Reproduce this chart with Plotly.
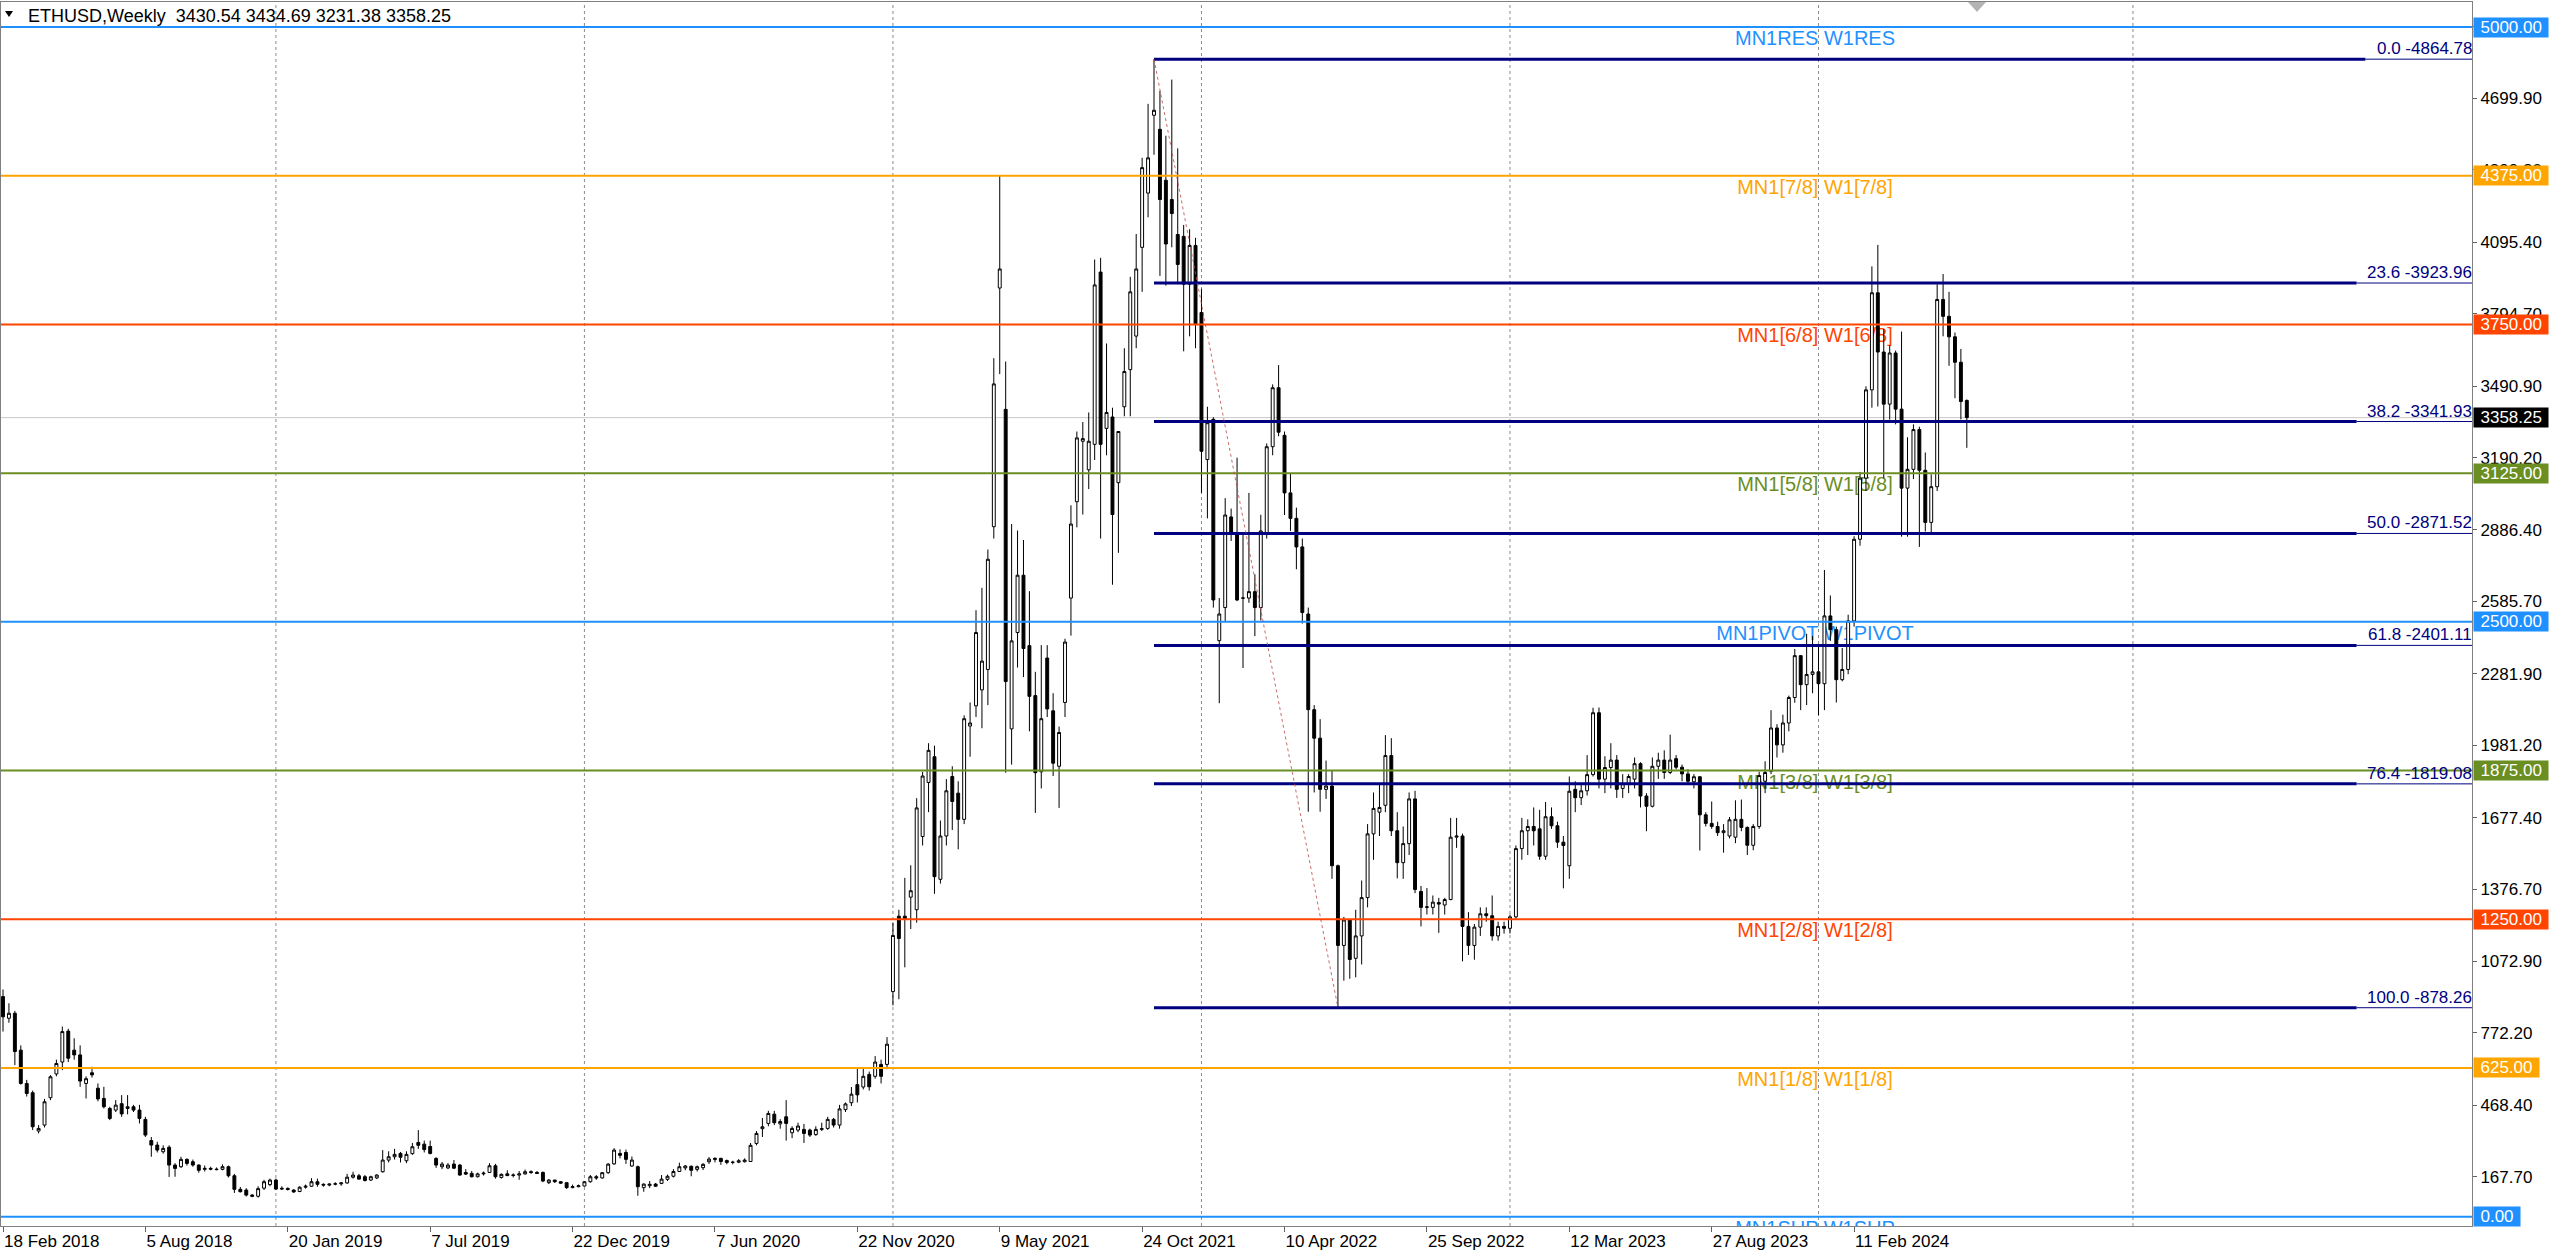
import plotly.graph_objects as go

# ---------------- DATA (weekly OHLC) ----------------
w2018 = [(925,955,778,840),(834,897,815,855),(855,865,637,694),(700,720,555,560),(560,575,505,518),
 (521,530,364,378),(360,385,350,371),(385,495,375,483),(500,595,490,588),(600,660,590,644),
 (650,799,616,778),(780,790,650,666),(700,750,660,680),(680,720,546,570),(560,590,497,580),
 (605,630,585,596),(540,560,485,495),(497,546,455,462),(455,462,406,413),(448,490,440,469),
 (475,511,420,432),(455,511,430,462),(462,470,440,448),(448,470,392,413),(409,420,335,343),
 (320,335,252,301),(301,315,270,280),(273,300,265,287),(292,300,167,217),(217,225,168,203),
 (210,252,205,241),(241,245,215,224),(231,240,210,217),(217,220,185,195),(199,215,190,203),
 (203,210,195,200),(200,207,195,198),(199,220,195,210),(210,215,165,172),(172,180,100,115),
 (115,125,102,105),(112,120,85,91),(91,95,82,86),(86,128,80,118),(120,155,112,147),(135,160,128,154)]
w2019 = [(154,160,112,116),(116,128,112,119),(119,123,110,115),(112,116,100,104),(106,128,103,124),
 (124,135,118,128),(128,162,126,147),(147,160,126,136),(136,140,126,133),(133,140,128,137),
 (137,145,132,138),(138,145,130,142),(142,180,138,166),(166,189,160,175),(172,180,155,158),
 (168,175,148,152),(154,172,150,168),(163,178,158,175),(189,280,185,238),(238,275,228,252),
 (252,285,240,262),(266,272,228,250),(235,275,225,262),(265,310,260,294),(312,364,285,300),
 (305,320,270,282),(295,320,262,266),(245,250,205,217),(210,230,200,221),(205,225,200,217),
 (221,238,200,204),(217,222,172,175),(186,200,175,179),(182,192,165,168),(168,185,165,180),
 (180,190,173,183),(186,225,185,214),(214,222,160,168),(165,182,160,178),(180,195,170,173),
 (173,182,165,175),(175,192,155,180),(180,198,176,189),(189,195,180,186),(186,192,180,182),
 (186,190,145,150),(143,158,137,154),(154,155,142,147),(147,150,138,141),(143,145,117,122),
 (122,135,120,126),(126,135,124,130)]
w2020 = [(129,150,127,147),(147,175,143,168),(168,175,155,163),(163,188,160,185),(185,225,180,221),
 (222,288,218,280),(266,283,245,258),(270,282,222,241),(213,253,210,238),(210,215,88,126),
 (122,140,105,137),(130,150,120,136),(137,142,125,128),(140,175,138,158),(157,177,150,170),
 (170,200,165,190),(190,227,188,210),(205,217,195,213),(212,215,170,195),(199,215,190,210),
 (206,225,196,220),(231,251,222,242),(240,250,228,245),(245,248,218,232),(236,240,220,228),
 (228,235,220,229),(229,242,225,235),(231,245,228,238),(232,310,230,300),(308,360,300,350),
 (370,415,335,378),(392,445,380,434),(431,445,385,395),(390,410,370,400),(420,490,320,392),
 (353,380,330,371),(364,395,355,381),(367,390,310,350),(364,370,335,343),(345,380,340,367),
 (367,395,360,370),(371,420,365,409),(409,415,375,385),(385,470,370,453),(450,480,440,474),
 (479,545,465,515),(555,622,480,512),(545,625,535,590),(598,610,530,546),(590,675,580,650),
 (640,660,560,590),(640,755,620,725)]
w2021 = [(946,1236,888,1182),(1263,1290,914,1169),(1263,1424,1048,1249),(1343,1477,1209,1370),
 (1290,1759,1236,1718),(1598,1870,1560,1852),(1825,1990,1700,1960),(1933,1980,1357,1429),
 (1418,1665,1400,1600),(1600,1839,1560,1790),(1850,1893,1625,1745),(1780,1830,1544,1670),
 (1670,2107,1650,2093),(2062,2161,1933,2075),(2147,2549,2100,2455),(2214,2643,2053,2335),
 (2300,2804,2150,2763),(2900,3608,2850,3500),(3903,4377,3541,3983),(3393,3594,1866,2249),
 (2050,2911,1900,2420),(2455,2884,2308,2696),(2696,2844,2268,2388),(2400,2629,2040,2187),
 (2190,2290,1697,1866),(1870,2402,1800,2093),(2348,2402,2100,2134),(2126,2200,1852,1906),
 (1893,2060,1718,2035),(2161,2429,2100,2415),(2600,2990,2442,2911),(3005,3300,2897,3273),
 (3259,3340,2951,3270),(3139,3380,3058,3259),(3246,4023,3180,3916),(3970,4030,2850,3246),
 (3313,3670,3200,3380),(3361,3400,2656,2951),(3085,3300,2790,3300),(3404,3650,3364,3552),
 (3560,3950,3364,3887),(3701,4130,3650,3983),(4074,4450,3887,4409),(4302,4677,4200,4450),
 (4629,4864.78,4463,4650),(4570,4731,3954,4275),(4356,4543,3913,4088),(4275,4779,4074,4216),
 (4128,4490,3919,4002),(4120,4168,3637,3919),(3919,4150,3700,4082),(4082,4114,3650,3753)]
w2022 = [(3800,3900,3042,3217),(3182,3404,2935,3337),(3351,3360,2560,2592),(2421,2600,2158,2533),
 (2560,3020,2500,2949),(2941,2976,2840,2868),(2868,3190,2587,2592),(2600,2868,2306,2600),
 (2600,3042,2580,2627),(2627,2700,2440,2560),(2560,2950,2506,2882),(2868,3250,2850,3236),
 (3236,3498,3200,3484),(3484,3579,3280,3297),(3284,3300,2949,3042),(3042,3123,2882,2935),
 (2935,2980,2721,2815),(2815,2850,2493,2539),(2533,2560,1702,2131),(2131,2150,1783,2011),
 (2011,2091,1702,1796),(1796,1917,1756,1810),(1810,1877,1420,1475),(1475,1480,878.26,1140),
 (1140,1260,992,1247),(1247,1250,1000,1081),(1086,1290,1006,1180),(1180,1413,1060,1341),
 (1341,1650,1300,1609),(1609,1783,1500,1716),(1700,1820,1600,1720),(1729,2024,1700,1938),
 (1938,2011,1600,1622),(1622,1700,1422,1488),(1488,1640,1420,1568),(1568,1783,1520,1756),
 (1756,1790,1360,1375),(1367,1390,1220,1300),(1300,1381,1270,1302),(1300,1350,1270,1322),
 (1320,1340,1193,1314),(1310,1340,1270,1333),(1333,1676,1330,1595),(1595,1676,1550,1600),
 (1600,1610,1073,1220),(1220,1280,1100,1140),(1140,1230,1080,1217),(1217,1300,1180,1273),
 (1273,1300,1240,1265),(1265,1350,1160,1180),(1180,1240,1160,1220),(1220,1240,1190,1212)]
w2023 = [(1212,1270,1190,1260),(1260,1560,1250,1547),(1547,1676,1500,1622),(1622,1670,1520,1640),
 (1640,1720,1560,1622),(1630,1710,1500,1515),(1515,1743,1500,1681),(1681,1720,1630,1643),
 (1643,1660,1550,1574),(1574,1600,1380,1560),(1475,1850,1420,1788),(1796,1830,1700,1761),
 (1761,1820,1730,1790),(1790,1940,1770,1858),(1858,2139,1850,2118),(2118,2140,1800,1839),
 (1839,1935,1780,1888),(1888,1990,1800,1919),(1919,1940,1760,1796),(1800,1860,1760,1820),
 (1820,1860,1780,1850),(1839,1930,1800,1904),(1904,1910,1720,1768),(1768,1780,1620,1725),
 (1725,1930,1720,1893),(1893,1950,1840,1919),(1919,1960,1840,1867),(1867,2026,1860,1919),
 (1925,1940,1880,1889),(1889,1900,1830,1861),(1861,1880,1815,1830),(1828,1860,1800,1849),
 (1849,1850,1539,1689),(1689,1700,1640,1653),(1653,1745,1630,1640),(1640,1660,1600,1614),
 (1614,1650,1530,1622),(1600,1680,1590,1668),(1595,1750,1570,1670),(1670,1753,1620,1636),
 (1636,1640,1520,1561),(1561,1650,1540,1640),(1640,1870,1630,1854),(1830,1914,1780,1867),
 (1872,2129,1860,2054),(2054,2070,1930,1983),(1983,2110,1950,2075),(2075,2190,2040,2182),
 (2182,2386,2160,2358),(2358,2360,2129,2236),(2236,2450,2150,2279),(2279,2440,2200,2290)]
w2024 = [(2290,2400,2107,2240),(2240,2718,2129,2525),(2525,2611,2420,2467),(2467,2480,2161,2257),
 (2257,2390,2250,2300),(2300,2530,2280,2504),(2504,2860,2480,2847),(2847,3130,2820,3104),
 (3104,3490,3050,3475),(3475,3994,3400,3883),(3883,4084,3405,3634),(3634,3730,3104,3415),
 (3415,3662,3350,3630),(3630,3640,3330,3394),(3394,3720,2858,3062),(3062,3276,2858,3141),
 (3141,3330,3100,3308),(3308,3320,2815,3137),(3137,3212,2880,2918),(2918,3120,2868,3068),
 (3068,3919,3050,3855),(3855,3962,3700,3784),(3784,3887,3576,3698),(3698,3716,3440,3591),
 (3591,3647,3351,3426),(3430.54,3434.69,3231.38,3358.25)]

tick_weeks = [0, 24, 48, 72, 96, 120, 144, 168, 192, 216, 240, 264, 288, 312]
tick_dates = ["18 Feb 2018", "5 Aug 2018", "20 Jan 2019", "7 Jul 2019", "22 Dec 2019", "7 Jun 2020",
              "22 Nov 2020", "9 May 2021", "24 Oct 2021", "10 Apr 2022", "25 Sep 2022",
              "12 Mar 2023", "27 Aug 2023", "11 Feb 2024"]
grid_weeks = [46, 98, 150, 202, 254, 306, 359]
price_ticks = [5003.70, 4699.90, 4399.20, 4095.40, 3794.70, 3490.90, 3190.20, 2886.40, 2585.70,
               2281.90, 1981.20, 1677.40, 1376.70, 1072.90, 772.20, 468.40, 167.70]

murrey_levels = [5000, 4375, 3750, 3125, 2500, 1875, 1250, 625, 0]
murrey_names = ["MN1RES W1RES", "MN1[7/8] W1[7/8]", "MN1[6/8] W1[6/8]", "MN1[5/8] W1[5/8]",
                "MN1PIVOT W1PIVOT", "MN1[3/8] W1[3/8]", "MN1[2/8] W1[2/8]", "MN1[1/8] W1[1/8]",
                "MN1SUP W1SUP"]
murrey_colors = ["#1E90FF", "#FFA500", "#FF4500", "#6B8E23", "#1E90FF", "#6B8E23", "#FF4500",
                 "#FFA500", "#1E90FF"]

fib_pcts = ["0.0", "23.6", "38.2", "50.0", "61.8", "76.4", "100.0"]
fib_prices = [4864.78, 3923.96, 3341.93, 2871.52, 2401.11, 1819.08, 878.26]
fib_start_week, fib_end_week = 194, 225

last_price = 3358.25
title_text = "ETHUSD,Weekly&nbsp; 3430.54 3434.69 3231.38 3358.25"

# ---------------- GEOMETRY ----------------
W, H = 2560, 1253
PL, PR, PT, PB = 1, 2472, 2, 1226
PX_WEEK, X0 = 5.933, 3.0
Y0PX, PX_UNIT = 1216.7, 0.23794
x_range = [(PL - X0) / PX_WEEK, (PR - X0) / PX_WEEK]
y_range = [(Y0PX - PB) / PX_UNIT, (Y0PX - PT) / PX_UNIT]
FONT = "Liberation Sans, Arial, sans-serif"

def pxx(px):
    return (px - PL) / (PR - PL)

def pxy(py):
    return 1 - (py - PT) / (PB - PT)

candles = w2018 + w2019 + w2020 + w2021 + w2022 + w2023 + w2024
weeks = list(range(len(candles)))
opens = [c[0] for c in candles]
highs = [c[1] for c in candles]
lows = [c[2] for c in candles]
closes = [c[3] for c in candles]

fig = go.Figure()

# Murrey level texts (under the candles)
label_week = (1815 - X0) / PX_WEEK
fig.add_trace(go.Scatter(
    x=[label_week] * len(murrey_levels),
    y=[lv - 13 / PX_UNIT for lv in murrey_levels],
    mode="text", text=murrey_names,
    textfont=dict(family=FONT, size=20, color=murrey_colors),
    cliponaxis=True, hoverinfo="skip", showlegend=False,
    xaxis="x", yaxis="y"))

# candles on an overlaid subplot so they sit above the texts
fig.add_trace(go.Candlestick(
    x=weeks, open=opens, high=highs, low=lows, close=closes,
    increasing=dict(line=dict(color="black", width=1), fillcolor="white"),
    decreasing=dict(line=dict(color="black", width=1), fillcolor="black"),
    whiskerwidth=0, hoverinfo="skip", showlegend=False,
    xaxis="x2", yaxis="y2"))

shapes = []
# vertical dotted grid
for gw in grid_weeks:
    shapes.append(dict(type="line", xref="x", yref="paper", x0=gw, x1=gw, y0=0, y1=1,
                       line=dict(color="#8c8c8c", width=1, dash="dot"), layer="below"))
# current price line
shapes.append(dict(type="line", xref="paper", yref="y", x0=0, x1=1, y0=last_price, y1=last_price,
                   line=dict(color="#c8c8c8", width=1), layer="below"))
# Murrey lines
for lv, col in zip(murrey_levels, murrey_colors):
    shapes.append(dict(type="line", xref="paper", yref="y", x0=0, x1=1, y0=lv, y1=lv,
                       line=dict(color=col, width=2), layer="above"))
# Fibonacci levels
annotations = []
FIB_FONT = 17
for pct, pr in zip(fib_pcts, fib_prices):
    label = f"{pct} -{pr:.2f}"
    end_px = PR - 1 - 8.8 * len(label)
    end_week = (end_px - X0) / PX_WEEK
    shapes.append(dict(type="line", xref="x", yref="y", x0=fib_start_week, x1=end_week, y0=pr, y1=pr,
                       line=dict(color="#000080", width=3), layer="above"))
    shapes.append(dict(type="line", xref="x", yref="y", x0=end_week, x1=x_range[1], y0=pr, y1=pr,
                       line=dict(color="#000080", width=1), layer="above"))
    annotations.append(dict(xref="paper", yref="y", x=1, y=pr, xanchor="right", yanchor="bottom",
                            xshift=2, yshift=-1, text=label, showarrow=False,
                            font=dict(family=FONT, size=FIB_FONT, color="#000080")))
# fib trend line
shapes.append(dict(type="line", xref="x", yref="y", x0=fib_start_week, y0=fib_prices[0],
                   x1=fib_end_week, y1=fib_prices[-1],
                   line=dict(color="rgba(190,70,70,0.8)", width=1, dash="dot"), layer="above"))
# chart-shift marker
shapes.append(dict(type="path", xref="paper", yref="paper",
                   path=f"M {pxx(1968)} {pxy(2)} L {pxx(1986)} {pxy(2)} L {pxx(1977)} {pxy(12)} Z",
                   fillcolor="#b4b4b4", line=dict(width=0), layer="above"))
# menu triangle
shapes.append(dict(type="path", xref="paper", yref="paper",
                   path=f"M {pxx(5)} {pxy(11)} L {pxx(13)} {pxy(11)} L {pxx(9)} {pxy(17)} Z",
                   fillcolor="#000000", line=dict(width=0), layer="above"))

# price boxes on the right axis
def box_width(txt):
    return 9.45 * sum(ch.isdigit() for ch in txt) + 4.7 + 13

for lv, col in zip(murrey_levels, murrey_colors):
    t = f"{lv:.2f}"
    annotations.append(dict(xref="paper", yref="y", x=1, y=lv, xanchor="left", yanchor="middle",
                            xshift=1, text=t, showarrow=False, bgcolor=col, borderpad=0,
                            width=box_width(t), font=dict(family=FONT, size=17, color="white")))
t = f"{last_price:.2f}"
annotations.append(dict(xref="paper", yref="y", x=1, y=last_price, xanchor="left", yanchor="middle",
                        xshift=1, text=t, showarrow=False, bgcolor="black", borderpad=0,
                        width=box_width(t), font=dict(family=FONT, size=17, color="white")))
# title
annotations.append(dict(xref="paper", yref="paper", x=pxx(26), y=1, xanchor="left", yanchor="middle",
                        yshift=-14, text=title_text, showarrow=False,
                        font=dict(family=FONT, size=18, color="black")))

fig.update_layout(
    width=W, height=H,
    margin=dict(l=PL, r=W - PR, t=PT, b=H - PB, pad=0),
    paper_bgcolor="white", plot_bgcolor="white",
    showlegend=False, hovermode=False,
    shapes=shapes, annotations=annotations,
    xaxis=dict(range=x_range, tickvals=tick_weeks, ticktext=tick_dates, ticks="outside", ticklen=5,
               tickcolor="#606060", showgrid=False, zeroline=False, showline=True, mirror=True,
               linecolor="#808080", linewidth=1, ticklabelposition="outside right",
               tickfont=dict(family=FONT, size=17, color="black"), fixedrange=True),
    yaxis=dict(range=y_range, side="right", tickvals=price_ticks,
               ticktext=[f"{v:.2f}" for v in price_ticks], ticks="outside", ticklen=4,
               tickcolor="#606060", showgrid=False, zeroline=False, showline=True, mirror=True,
               linecolor="#808080", linewidth=1,
               tickfont=dict(family=FONT, size=17, color="black"), fixedrange=True),
    xaxis2=dict(range=x_range, overlaying="x", visible=False, rangeslider=dict(visible=False),
                fixedrange=True),
    yaxis2=dict(range=y_range, overlaying="y", visible=False, fixedrange=True),
)

fig.write_html("out.html", config={"displayModeBar": False},
               post_script="document.body.style.margin='0px';document.body.style.overflow='hidden';")
